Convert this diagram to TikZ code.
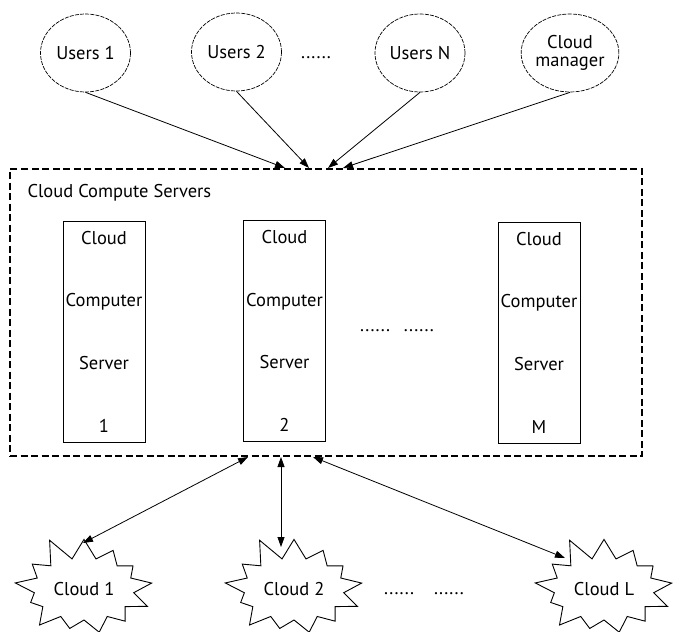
\documentclass[tikz,border=0pt]{standalone}
\usepackage{fontspec}
\setmainfont{PT Sans}
\usepackage{tikz}
\usetikzlibrary{arrows.meta,positioning,shapes.geometric,shapes.symbols}

\begin{document}
\begin{tikzpicture}[x=1pt,y=-1pt,
  usr/.style={draw,ellipse,dash pattern=on 4pt off 1.2pt,line width=0.7pt,minimum width=90pt,minimum height=78pt,inner sep=0pt,align=center,font=\fontsize{18.5}{17.5}\selectfont},
  dashbox/.style={draw,dash pattern=on 7pt off 3.5pt,line width=1.2pt,minimum width=632pt,minimum height=287pt,inner sep=0pt},
  srv/.style={draw,line width=0.6pt,minimum width=82pt,minimum height=221pt,inner sep=0pt,align=center,font=\fontsize{18.5}{62.7}\selectfont},
  cloud/.style={draw,starburst,starburst points=13,starburst point height=25pt,random starburst=11,line width=0.9pt,minimum width=150pt,minimum height=112pt,inner sep=0pt,font=\fontsize{18.5}{20}\selectfont},
  dots/.style={anchor=base,font=\fontsize{18.5}{20}\selectfont},
  link/.style={-{Triangle[length=10pt,width=7pt]},line width=0.8pt},
  both/.style={{Triangle[length=10pt,width=7pt]}-{Triangle[length=10pt,width=7pt]},line width=0.8pt}]
  \useasboundingbox (0,0) rectangle (676,631);
  % users and manager
  \node[usr] (u1) at (85.5,53) {Users 1};
  \node[usr] (u2) at (236.5,52) {Users 2};
  \node[dots] (d1) at (316,59) {......};
  \node[usr] (un) at (420,53) {Users N};
  \node[usr] (cm) at (570,53) {Cloud\\manager};
  % compute servers
  \node[dashbox] (ccs) at (326,312.5) {};
  \node[anchor=west,font=\fontsize{18.5}{20}\selectfont] (ccst) at (24,193) {Cloud Compute Servers};
  \node[srv] (s1) at (104,331.5) {Cloud\\Computer\\Server\\1};
  \node[srv] (s2) at (284.5,331) {Cloud\\Computer\\Server\\2};
  \node[dots] (d2) at (397,331) {......\hspace{14pt}......};
  \node[srv] (sm) at (539,332.5) {Cloud\\Computer\\Server\\M};
  % clouds
  \node[cloud] (c1) at (84,589) {Cloud 1};
  \node[cloud] (c2) at (294,589) {Cloud 2};
  \node[dots] (d3) at (424,594) {......\hspace{20pt}......};
  \node[cloud] (cl) at (604,589) {Cloud L};
  % arrow ends
  \coordinate (t1) at (285,168);
  \coordinate (t2) at (309,168);
  \coordinate (t3) at (328,168);
  \coordinate (t4) at (343,168);
  \coordinate (b1) at (248,457);
  \coordinate (b2) at (281,457);
  \coordinate (b3) at (313,457);
  \coordinate (e1) at (83,543);
  \coordinate (e2) at (281,547);
  \coordinate (e3) at (565,558);
  \draw[link] (u1.south) -- (t1);
  \draw[link] (u2.south) -- (t2);
  \draw[link] (un.south) -- (t3);
  \draw[link] (cm.south) -- (t4);
  \draw[both] (b1) -- (e1);
  \draw[both] (b2) -- (e2);
  \draw[both] (b3) -- (e3);
\end{tikzpicture}
\end{document}
